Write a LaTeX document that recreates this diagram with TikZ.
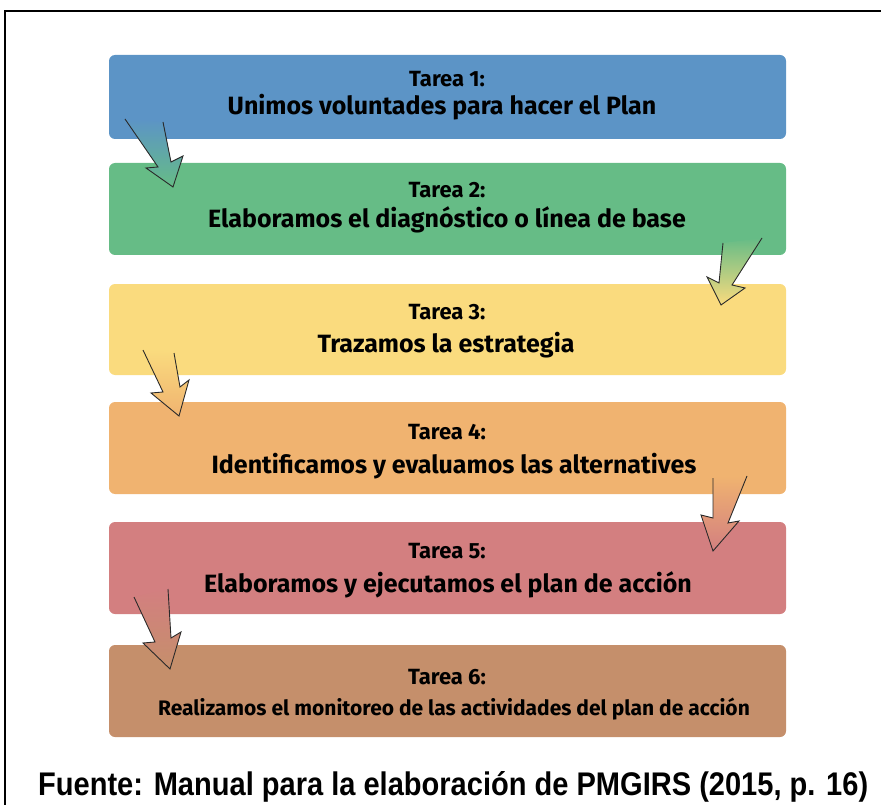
\documentclass[tikz,border=0pt]{standalone}
\usepackage{fontspec}
\setmainfont{Fira Sans}
\newfontfamily\capfont{Liberation Sans}
\definecolor{cA}{HTML}{5C94C6}
\definecolor{cB}{HTML}{66BC86}
\definecolor{cC}{HTML}{FADB7E}
\definecolor{cD}{HTML}{F0B370}
\definecolor{cE}{HTML}{D37F80}
\definecolor{cF}{HTML}{C58F6B}
\definecolor{edgeC}{HTML}{2A2A2A}
\begin{document}
\begin{tikzpicture}[x=1pt,y=-1pt,
  taskbox/.style={rounded corners=6pt, draw=none, inner sep=0pt, outer sep=0pt, minimum width=677pt},
  lab/.style={anchor=base, font=\bfseries\fontsize{22}{24}\selectfont, inner sep=0pt},
  ttl/.style={anchor=base, font=\bfseries\fontsize{25}{28}\selectfont, inner sep=0pt},
  arrline/.style={draw=edgeC, line width=0.9pt, line join=miter},
  frameline/.style={line width=2.2pt, black}]
\useasboundingbox (0,0) rectangle (881,805);
% frame
\draw[frameline] (5,805) -- (5,11) -- (882,11);
% boxes
\node[taskbox, fill=cA, minimum height=84pt] (b1) at (447.5,97) {};
\node[taskbox, fill=cB, minimum height=92pt] (b2) at (447.5,209) {};
\node[taskbox, fill=cC, minimum height=91pt] (b3) at (447.5,329.5) {};
\node[taskbox, fill=cD, minimum height=92pt] (b4) at (447.5,448) {};
\node[taskbox, fill=cE, minimum height=92pt] (b5) at (447.5,568) {};
\node[taskbox, fill=cF, minimum height=92pt] (b6) at (447.5,691) {};
% texts
\node[lab] (l1) at (447,87) {Tarea 1:};
\node[ttl] (t1) at (442,115) {Unimos voluntades para hacer el Plan};
\node[lab] (l2) at (447,197.5) {Tarea 2:};
\node[ttl] (t2) at (447,228) {Elaboramos el diagnóstico o línea de base};
\node[lab] (l3) at (447,319) {Tarea 3:};
\node[ttl] (t3) at (446,352) {Trazamos la estrategia};
\node[lab] (l4) at (447,439) {Tarea 4:};
\node[ttl] (t4) at (454,473) {Identificamos y evaluamos las alternatives};
\node[lab] (l5) at (447,558) {Tarea 5:};
\node[ttl] (t5) at (448,592) {Elaboramos y ejecutamos el plan de acción};
\node[lab] (l6) at (447,684) {Tarea 6:};
\node[anchor=base, inner sep=0pt, font=\bfseries\fontsize{21}{24}\selectfont] (t6) at (454,715) {Realizamos el monitoreo de las actividades del plan de acción};
% arrows
\shade[top color=cA, bottom color=cB] (125,119) -- (158,167) -- (146,168) -- (173,187) -- (183,156) -- (171,162) -- (163,122) -- cycle;
\draw[arrline] (125,119) -- (158,167) -- (146,168) -- (173,187) -- (183,156) -- (171,162) -- (163,122);
\shade[top color=cB, bottom color=cC] (723,243) -- (719,283) -- (707,277) -- (721,305) -- (745,288) -- (732,285) -- (762,238) -- cycle;
\draw[arrline] (723,243) -- (719,283) -- (707,277) -- (721,305) -- (745,288) -- (732,285) -- (762,238);
\shade[top color=cC, bottom color=cD] (143,350) -- (163,392) -- (151,393) -- (179,416) -- (189,380) -- (180,387) -- (174,353) -- cycle;
\draw[arrline] (143,350) -- (163,392) -- (151,393) -- (179,416) -- (189,380) -- (180,387) -- (174,353);
\shade[top color=cD, bottom color=cE] (713,478) -- (713,518) -- (701,515) -- (713,551) -- (739,521) -- (728,523) -- (747,476) -- cycle;
\draw[arrline] (713,478) -- (713,518) -- (701,515) -- (713,551) -- (739,521) -- (728,523) -- (747,476);
\shade[top color=cE, bottom color=cF] (134,597) -- (155,642) -- (143,643) -- (170,669) -- (181,632) -- (171,638) -- (168,589) -- cycle;
\draw[arrline] (134,597) -- (155,642) -- (143,643) -- (170,669) -- (181,632) -- (171,638) -- (168,589);
% caption
\node[anchor=base west, inner sep=0pt] (cap) at (38,795) {\resizebox{830pt}{24pt}{\capfont\bfseries Fuente: Manual para la elaboración de PMGIRS (2015, p. 16)}};
\end{tikzpicture}
\end{document}
